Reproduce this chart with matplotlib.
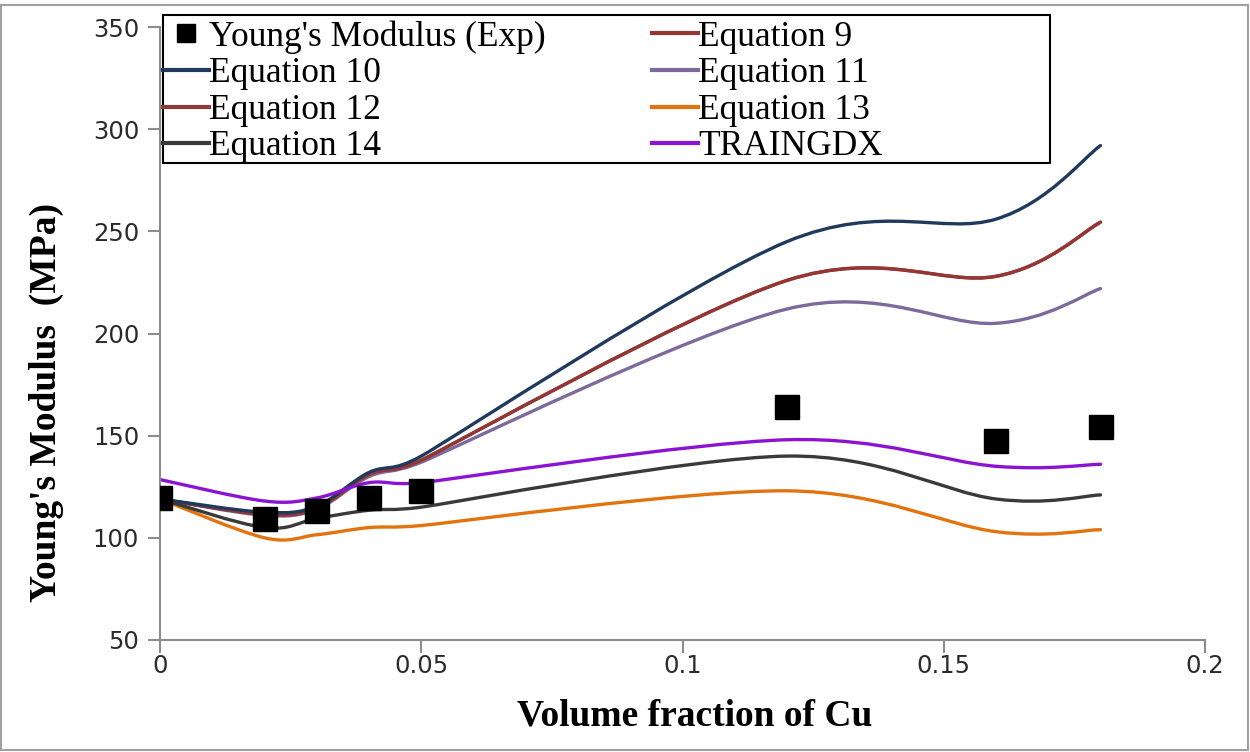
import numpy as np
import matplotlib
matplotlib.use("Agg")
import matplotlib.pyplot as plt
from matplotlib.path import Path
from matplotlib.patches import PathPatch, Rectangle
from matplotlib.lines import Line2D

# 体積分率
vf = [0.0, 0.02, 0.03, 0.04, 0.05, 0.12, 0.16, 0.18]

# 実験値
exp_E = [119.5, 109.0, 113.0, 119.5, 123.0, 164.0, 147.5, 154.0]

# 各式の予測値
eq9 = [119.0, 111.5, 114.5, 131.0, 138.0, 226.0, 228.0, 254.5]
eq10 = [119.0, 112.5, 115.5, 132.0, 140.0, 245.0, 256.0, 292.0]
eq11 = [119.0, 111.0, 114.0, 130.0, 137.0, 212.0, 205.0, 222.0]
eq12 = [119.0, 111.5, 114.5, 131.0, 138.0, 226.0, 228.0, 254.5]
eq13 = [119.0, 100.0, 101.5, 105.0, 106.0, 123.0, 103.0, 104.0]
eq14 = [119.0, 105.0, 109.5, 113.5, 115.0, 140.0, 119.0, 121.0]
traingdx = [128.5, 118.0, 119.5, 127.0, 127.0, 148.0, 135.0, 136.0]

labels = ["Equation 9", "Equation 10", "Equation 11", "Equation 12",
          "Equation 13", "Equation 14", "TRAINGDX"]
colors = ["#943634", "#1F3A5C", "#7D6A9C", "#8E3B3A",
          "#E3730F", "#3A3A3A", "#8B14D2"]


def smooth_path(x, y, ax):
    # Excel風の平滑線 (ベジェ曲線) を画面座標で作る
    pts = ax.transData.transform(np.column_stack([x, y]))
    n = len(pts)
    tang = []
    for i in range(n):
        p_prev = pts[max(i - 1, 0)]
        p_next = pts[min(i + 1, n - 1)]
        t = (p_next - p_prev) / 6.0
        # 制御点が隣の点を越えてループしないように縮める
        dx_min = min(pts[min(i + 1, n - 1)][0] - pts[i][0] if i < n - 1 else np.inf,
                     pts[i][0] - pts[max(i - 1, 0)][0] if i > 0 else np.inf)
        lim = 0.6 * dx_min
        if t[0] > lim:
            t = t * lim / t[0]
        tang.append(t)
    verts = [pts[0]]
    codes = [Path.MOVETO]
    for i in range(n - 1):
        verts += [pts[i] + tang[i], pts[i + 1] - tang[i + 1], pts[i + 1]]
        codes += [Path.CURVE4] * 3
    verts = ax.transData.inverted().transform(np.array(verts))
    return Path(verts, codes)


def main():
    fig = plt.figure(figsize=(12.5, 7.52), dpi=100)
    ax = fig.add_axes([0.128, 0.149, 0.836, 0.815])
    ax.set_xlim(0, 0.2)
    ax.set_ylim(50, 350)

    gray = "#8C8C8C"
    for s in ["top", "right"]:
        ax.spines[s].set_visible(False)
    for s in ["left", "bottom"]:
        ax.spines[s].set_color(gray)
        ax.spines[s].set_linewidth(1.5)
    ax.tick_params(axis="both", colors=gray, length=9, width=1.5, direction="out")
    ax.set_xticks([0, 0.05, 0.1, 0.15, 0.2])
    ax.set_xticklabels(["0", "0.05", "0.1", "0.15", "0.2"])
    ax.set_yticks(np.arange(50, 351, 50))
    for lab in ax.get_xticklabels() + ax.get_yticklabels():
        lab.set_family("DejaVu Sans")
        lab.set_fontsize(17.5)
        lab.set_color("#2A2A2A")
    ax.tick_params(axis="x", pad=1)
    ax.tick_params(axis="y", pad=6)

    serif = ["Liberation Serif", "DejaVu Serif"]
    ax.set_xlabel("Volume fraction of Cu", family=serif, fontsize=27,
                  fontweight="bold")
    ax.set_ylabel("Young's Modulus  (MPa)", family=serif, fontsize=27,
                  fontweight="bold")
    ax.xaxis.set_label_coords(0.512, -0.095)
    ax.yaxis.set_label_coords(-0.092, 0.388)

    series = [eq9, eq10, eq11, eq12, eq13, eq14, traingdx]
    # 描画順: 下の線から
    order = [2, 3, 0, 1, 4, 5, 6]
    fig.canvas.draw()
    for k in order:
        path = smooth_path(vf, series[k], ax)
        ax.add_patch(PathPatch(path, facecolor="none", edgecolor=colors[k],
                               lw=2.4, zorder=2, capstyle="round"))

    ax.plot(vf, exp_E, ls="none", marker="s", ms=17, color="black", zorder=3)

    # 凡例の枠 (Excel風に右側に余白あり)
    ax.add_patch(Rectangle((0.003, 0.778), 0.849, 0.2415, transform=ax.transAxes,
                           facecolor="white", edgecolor="black", lw=1.5,
                           clip_on=False, zorder=4))

    handles = [Line2D([], [], ls="none", marker="s", ms=13, color="black")]
    handles += [Line2D([], [], color=c, lw=3) for c in colors]
    names = ["Young's Modulus (Exp)"] + labels
    # 2列の凡例 (行優先の並びにする)
    h_cols = [handles[0::2], handles[1::2]]
    n_cols = [names[0::2], names[1::2]]
    leg = ax.legend(h_cols[0] + h_cols[1], n_cols[0] + n_cols[1], ncol=2,
                    loc="upper left", bbox_to_anchor=(0.003, 1.011),
                    prop={"family": serif, "size": 25.5}, frameon=False,
                    handlelength=1.3, handletextpad=0.0, labelspacing=0.1,
                    columnspacing=3.0, borderpad=0.0, borderaxespad=0)
    leg.set_zorder(5)

    fig.patches.append(Rectangle((0.001, 0.002), 0.997, 0.992,
                                 transform=fig.transFigure, fill=False,
                                 edgecolor="#A0A0A0", lw=1.5))

    fig.savefig("out.png", dpi=100, facecolor="white")


if __name__ == '__main__':
    main()
